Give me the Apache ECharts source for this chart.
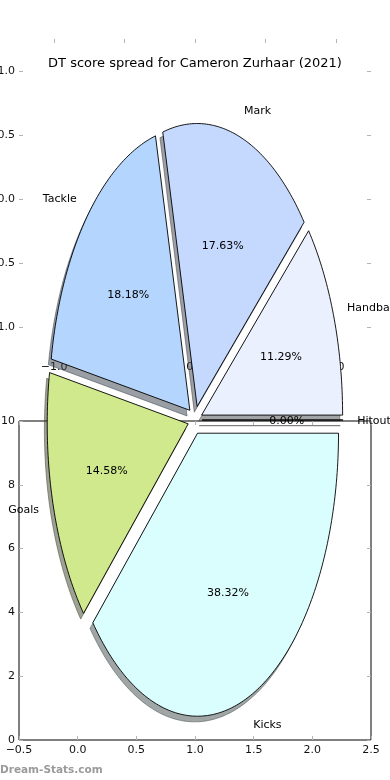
<!DOCTYPE html>
<html><head><meta charset="utf-8">
<script src="https://cdn.jsdelivr.net/npm/echarts@6/dist/echarts.min.js"></script>
<style>html,body{margin:0;padding:0;background:#fff}#c{width:390px;height:780px}</style>
</head><body><div id="c"></div>
<script>
const titleText = 'DT score spread for Cameron Zurhaar (2021)';
const categories = ['Handball', 'Mark', 'Tackle', 'Goals', 'Kicks', 'Hitout'];
const shares = [11.29, 17.63, 18.18, 14.58, 38.32, 0.00];
const sliceColors = ['#eaf0fe', '#c5d8fe', '#b4d5fd', '#cfe98c', '#dafefe', '#dddddd'];
const upperTicks = [-1, -0.5, 0, 0.5, 1];
const watermark = 'Dream-Stats.com';

const EXPLODE = 0.05, SHADOW = [-0.02, -0.02];
const FONT = '"DejaVu Sans", sans-serif';
const total = shares.reduce((a, b) => a + b, 0);
const starts = []; { let acc = 0; shares.forEach(v => { starts.push(acc); acc += v / total * 360; }); }

function wedgeAngles(i) {
  const t1 = starts[i], t2 = starts[i] + shares[i] / total * 360;
  return [t1 * Math.PI / 180, t2 * Math.PI / 180, (t1 + t2) / 2 * Math.PI / 180];
}
function wedgePoints(i, api, off) {
  const [t1, t2, mid] = wedgeAngles(i);
  const ex = EXPLODE * Math.cos(mid) + off[0], ey = EXPLODE * Math.sin(mid) + off[1];
  const pts = [api.coord([ex, ey])];
  const n = Math.max(2, Math.ceil((t2 - t1) * 180 / Math.PI));
  for (let k = 0; k <= n; k++) {
    const t = t1 + (t2 - t1) * k / n;
    pts.push(api.coord([ex + Math.cos(t), ey + Math.sin(t)]));
  }
  return pts;
}
function shadowColor(hex) {
  const r = parseInt(hex.substr(1, 2), 16), g = parseInt(hex.substr(3, 2), 16), b = parseInt(hex.substr(5, 2), 16);
  return 'rgb(' + Math.round(r * 0.3) + ',' + Math.round(g * 0.3) + ',' + Math.round(b * 0.3) + ')';
}
const minus = v => String(v).replace('-', '\u2212');
const fmt1 = v => minus(v.toFixed(1));

const noLine = { show: false, onZero: false };
const tickGray = { show: true, inside: true, length: 4, lineStyle: { color: '#b4b4b4', width: 1 } };
const lbl = { fontFamily: FONT, fontSize: 11, color: '#111' };
const sliceData = categories.map((c, i) => [0, 0, i]);

const chart = echarts.init(document.getElementById('c'), null, { renderer: 'canvas' });
chart.setOption({
  animation: false,
  backgroundColor: '#fff',
  title: { text: titleText, left: 'center', top: 52, textStyle: { fontFamily: FONT, fontSize: 13, fontWeight: 'normal', color: '#000' } },
  graphic: [{ type: 'text', left: 0, top: 765, style: { text: watermark, font: 'bold 10.5px ' + FONT, fill: '#9a9a9a' } }],
  grid: [
    { left: 19, top: 421, width: 352, height: 319, show: true, borderColor: '#000', borderWidth: 1, backgroundColor: 'transparent', containLabel: false, outerBoundsMode: 'none' },
    { left: 19, top: 39, width: 352, height: 320, containLabel: false, outerBoundsMode: 'none' },
    { left: 54, top: 137, width: 282, height: 566, containLabel: false, outerBoundsMode: 'none' }
  ],
  xAxis: [
    { gridIndex: 0, type: 'value', min: -0.5, max: 2.5, interval: 0.5, position: 'bottom', axisLine: noLine, splitLine: { show: false }, axisTick: tickGray, axisLabel: Object.assign({ margin: 5, formatter: v => fmt1(v) }, lbl) },
    { gridIndex: 0, type: 'value', min: -0.5, max: 2.5, interval: 0.5, position: 'top', axisLine: noLine, splitLine: { show: false }, axisTick: tickGray, axisLabel: { show: false } },
    { gridIndex: 1, type: 'value', min: -1.25, max: 1.25, position: 'bottom', axisLine: noLine, splitLine: { show: false },
      axisTick: Object.assign({ customValues: upperTicks }, tickGray), axisLabel: Object.assign({ margin: 3, customValues: upperTicks, formatter: v => fmt1(v) }, lbl) },
    { gridIndex: 1, type: 'value', min: -1.25, max: 1.25, position: 'top', axisLine: noLine, splitLine: { show: false },
      axisTick: Object.assign({ customValues: upperTicks }, tickGray), axisLabel: { show: false } },
    { gridIndex: 2, type: 'value', min: -1, max: 1, show: false, axisLine: noLine }
  ],
  yAxis: [
    { gridIndex: 0, type: 'value', min: 0, max: 10, interval: 2, position: 'left', axisLine: noLine, splitLine: { show: false }, axisTick: tickGray, axisLabel: Object.assign({ margin: 4 }, lbl) },
    { gridIndex: 0, type: 'value', min: 0, max: 10, interval: 2, position: 'right', axisLine: noLine, splitLine: { show: false }, axisTick: tickGray, axisLabel: { show: false } },
    { gridIndex: 1, type: 'value', min: -1.25, max: 1.25, position: 'left', axisLine: noLine, splitLine: { show: false },
      axisTick: Object.assign({ customValues: upperTicks }, tickGray), axisLabel: Object.assign({ margin: 4, customValues: upperTicks, formatter: v => fmt1(v) }, lbl) },
    { gridIndex: 1, type: 'value', min: -1.25, max: 1.25, position: 'right', axisLine: noLine, splitLine: { show: false },
      axisTick: Object.assign({ customValues: upperTicks }, tickGray), axisLabel: { show: false } },
    { gridIndex: 2, type: 'value', min: -1, max: 1, show: false, axisLine: noLine }
  ],
  series: [
    { type: 'custom', xAxisIndex: 4, yAxisIndex: 4, z: 3, clip: false, silent: true, data: sliceData,
      renderItem: (params, api) => {
        const i = params.dataIndex;
        const col = shadowColor(sliceColors[i]);
        return { type: 'polygon', shape: { points: wedgePoints(i, api, SHADOW) }, style: { fill: col, stroke: col, lineWidth: 1, opacity: 0.5 } };
      } },
    { type: 'custom', xAxisIndex: 4, yAxisIndex: 4, z: 4, clip: false, silent: true, data: sliceData,
      renderItem: (params, api) => {
        const i = params.dataIndex;
        return { type: 'polygon', shape: { points: wedgePoints(i, api, [0, 0]) }, style: { fill: sliceColors[i], stroke: '#000', lineWidth: 0.9, lineJoin: 'miter' } };
      } },
    { type: 'custom', xAxisIndex: 4, yAxisIndex: 4, z: 5, clip: false, silent: true, data: sliceData,
      renderItem: (params, api) => {
        const i = params.dataIndex;
        const [, , mid] = wedgeAngles(i);
        const c = Math.cos(mid), s = Math.sin(mid);
        const ex = EXPLODE * c, ey = EXPLODE * s;
        const pName = api.coord([ex + 1.1 * c, ey + 1.1 * s]);
        const pPct = api.coord([ex + 0.6 * c, ey + 0.6 * s]);
        const al = c >= 0 ? 'left' : 'right';
        return { type: 'group', children: [
          { type: 'text', x: pName[0], y: pName[1] + 1.5, style: { text: categories[i], font: '11px ' + FONT, fill: '#000', align: al, verticalAlign: 'middle' } },
          { type: 'text', x: pPct[0], y: pPct[1] + 1, style: { text: shares[i].toFixed(2) + '%', font: '11px ' + FONT, fill: '#000', align: 'center', verticalAlign: 'middle' } }
        ] };
      } }
  ]
});
</script></body></html>
